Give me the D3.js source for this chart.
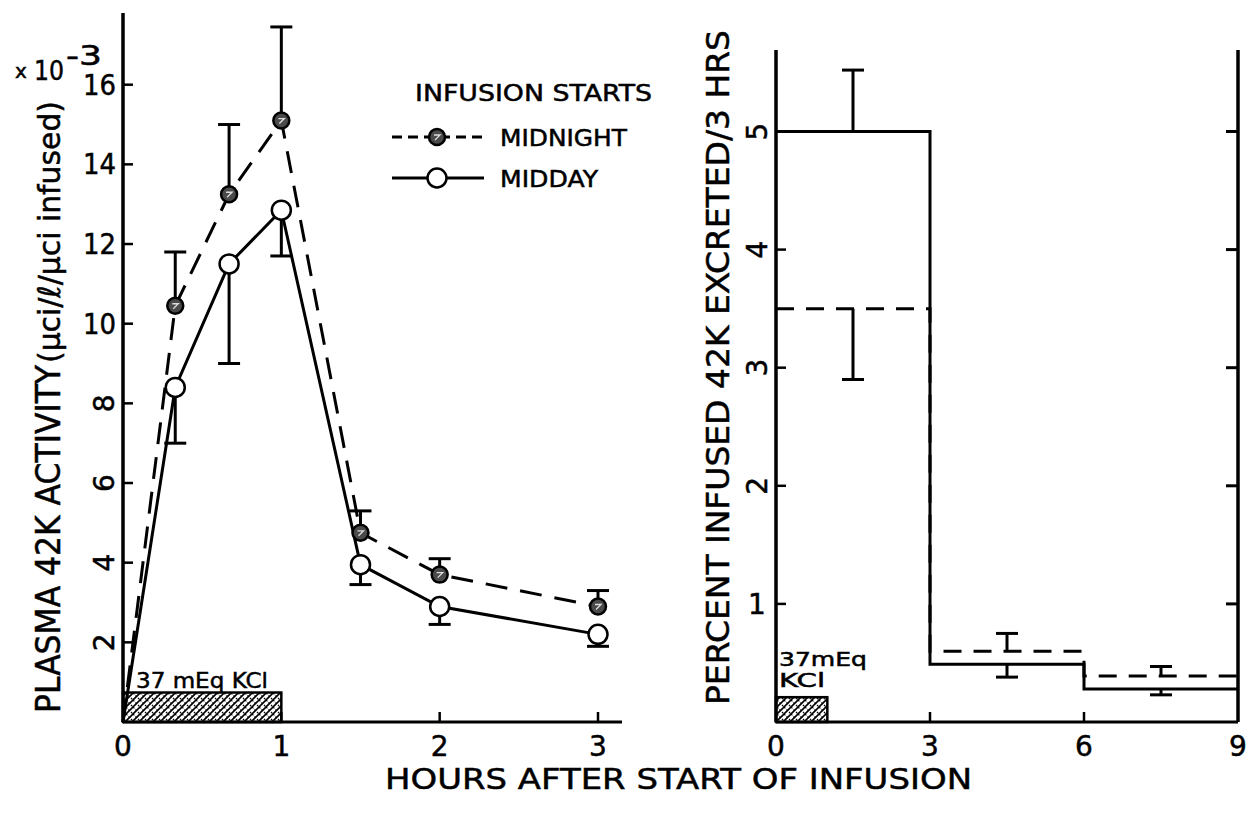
<!DOCTYPE html>
<html>
<head>
<meta charset="utf-8">
<script src="https://cdn.jsdelivr.net/npm/d3@7"></script>
<style>
  body { margin: 0; background: #fff; }
  svg text { font-family: 'DejaVu Sans', 'Liberation Sans', sans-serif; fill: #000; stroke: #000; stroke-width: 0.5; }
</style>
</head>
<body>
<div id="chart"></div>
<script>
// left panel: plasma activity, hours 0-3
var hoursL = [0, 0.33, 0.67, 1, 1.5, 2, 3];
var midnightL = [0, 10.45, 13.25, 15.1, 4.75, 3.7, 2.9];
var midnightErrL = [null, 11.8, 15.0, 17.45, 5.3, 4.1, 3.3];
var middayL = [0, 8.4, 11.5, 12.85, 3.95, 2.9, 2.2];
var middayErrL = [null, 7.0, 9.0, 11.7, 3.45, 2.45, 1.9];
var yTicksL = [2, 4, 6, 8, 10, 12, 14, 16];
var xTicksL = [0, 1, 2, 3];

// right panel: percent excreted per 3 hrs
var binStarts = [0, 3, 6];
var binWidth = 3;
var midnightR = [3.5, 0.6, 0.39];
var midnightErrR = [2.9, 0.75, 0.47];
var middayR = [5.0, 0.49, 0.28];
var middayErrR = [5.52, 0.38, 0.23];
var yTicksR = [1, 2, 3, 4, 5];
var xTicksR = [0, 3, 6, 9];

var infusionHours = 1;
var infusionBarL = 0.74, infusionBarR = 0.21;

var W = 1246, H = 813;
var lw = 3;

var svg = d3.select('#chart').append('svg')
  .attr('width', W).attr('height', H);

var defs = svg.append('defs');
var hatch = defs.append('pattern')
  .attr('id', 'hatch').attr('patternUnits', 'userSpaceOnUse')
  .attr('width', 7).attr('height', 7);
hatch.append('rect').attr('width', 7).attr('height', 7).attr('fill', '#fff');
hatch.append('path').attr('d', 'M0,7 L7,0 M-2,2 L2,-2 M5,9 L9,5')
  .attr('stroke', '#000').attr('stroke-width', 1.6);
hatch.append('path').attr('d', 'M0,0 L7,7')
  .attr('stroke', '#000').attr('stroke-width', 1.2).attr('stroke-dasharray', '2,1.5');

/* Left panel */

var xL = d3.scaleLinear().domain([0, 3]).range([123, 598]);
var yL = d3.scaleLinear().domain([0, 17.8]).range([722, 13]);

var gL = svg.append('g');

gL.append('rect')
  .attr('x', xL(0)).attr('y', yL(infusionBarL))
  .attr('width', xL(infusionHours) - xL(0)).attr('height', yL(0) - yL(infusionBarL))
  .attr('fill', 'url(#hatch)').attr('stroke', '#000').attr('stroke-width', 2.5);

gL.append('text').attr('x', 136).attr('y', 688)
  .attr('font-size', 22).attr('textLength', 132).attr('lengthAdjust', 'spacingAndGlyphs')
  .text('37 mEq KCl');

// axes
gL.append('line').attr('x1', xL(0)).attr('x2', xL(0)).attr('y1', yL(17.8)).attr('y2', yL(0))
  .attr('stroke', '#000').attr('stroke-width', 3.5);
gL.append('line').attr('x1', xL(0)).attr('x2', 622).attr('y1', yL(0)).attr('y2', yL(0))
  .attr('stroke', '#000').attr('stroke-width', 3);

yTicksL.forEach(function(v) {
  gL.append('line').attr('x1', xL(0)).attr('x2', xL(0) + 10).attr('y1', yL(v)).attr('y2', yL(v))
    .attr('stroke', '#000').attr('stroke-width', 2.5);
  if (v >= 10) {
    gL.append('text').attr('x', 116).attr('y', yL(v) + 10)
      .attr('text-anchor', 'end').attr('font-size', 28).attr('textLength', 33)
      .attr('lengthAdjust', 'spacingAndGlyphs').text(v);
  } else {
    gL.append('text').attr('transform', 'translate(114,' + yL(v) + ') rotate(-90)')
      .attr('text-anchor', 'middle').attr('font-size', 28).text(v);
  }
});
xTicksL.forEach(function(v) {
  if (v > 0) {
    gL.append('line').attr('x1', xL(v)).attr('x2', xL(v)).attr('y1', yL(0)).attr('y2', yL(0) - 10)
      .attr('stroke', '#000').attr('stroke-width', 2.5);
  }
  gL.append('text').attr('x', xL(v)).attr('y', 756)
    .attr('text-anchor', 'middle').attr('font-size', 28).text(v);
});

gL.append('text').attr('x', 15).attr('y', 78).attr('font-size', 20).text('x');
gL.append('text').attr('x', 34).attr('y', 80).attr('font-size', 27)
  .attr('textLength', 30).attr('lengthAdjust', 'spacingAndGlyphs').text('10');
gL.append('text').attr('x', 66).attr('y', 65).attr('font-size', 26)
  .attr('textLength', 36).attr('lengthAdjust', 'spacingAndGlyphs').text('-3');

gL.append('text').attr('transform', 'translate(60,713) rotate(-90)')
  .attr('font-size', 33).attr('textLength', 348).attr('lengthAdjust', 'spacingAndGlyphs')
  .text('PLASMA 42K ACTIVITY');
gL.append('text').attr('transform', 'translate(60,363) rotate(-90)')
  .attr('font-size', 31).attr('textLength', 262).attr('lengthAdjust', 'spacingAndGlyphs')
  .text('(μci/ℓ/μci infused)');

var lineL = d3.line().x(function(d) { return xL(d[0]); }).y(function(d) { return yL(d[1]); });

function errorBars(g, xs, vals, ends, xs_, ys_, cap) {
  xs.forEach(function(x, i) {
    if (ends[i] === null) return;
    g.append('line').attr('x1', xs_(x)).attr('x2', xs_(x)).attr('y1', ys_(vals[i])).attr('y2', ys_(ends[i]))
      .attr('stroke', '#000').attr('stroke-width', lw);
    g.append('line').attr('x1', xs_(x) - cap).attr('x2', xs_(x) + cap).attr('y1', ys_(ends[i])).attr('y2', ys_(ends[i]))
      .attr('stroke', '#000').attr('stroke-width', lw);
  });
}

errorBars(gL, hoursL, midnightL, midnightErrL, xL, yL, 11);
errorBars(gL, hoursL, middayL, middayErrL, xL, yL, 11);

gL.append('path').attr('d', lineL(d3.zip(hoursL, midnightL)))
  .attr('fill', 'none').attr('stroke', '#000').attr('stroke-width', lw)
  .attr('stroke-dasharray', '22,13');
gL.append('path').attr('d', lineL(d3.zip(hoursL, middayL)))
  .attr('fill', 'none').attr('stroke', '#000').attr('stroke-width', lw);

function midnightMarker(g, cx, cy) {
  g.append('circle').attr('cx', cx).attr('cy', cy).attr('r', 8)
    .attr('fill', '#4a4a4a').attr('stroke', '#000').attr('stroke-width', 2.5);
  g.append('path').attr('d', 'M' + (cx - 3) + ',' + (cy - 2) + ' L' + (cx + 3) + ',' + (cy - 2) + ' L' + (cx - 2) + ',' + (cy + 3))
    .attr('fill', 'none').attr('stroke', '#ddd').attr('stroke-width', 1.3);
}
function middayMarker(g, cx, cy) {
  g.append('circle').attr('cx', cx).attr('cy', cy).attr('r', 9.5)
    .attr('fill', '#fff').attr('stroke', '#000').attr('stroke-width', 2.5);
}

hoursL.forEach(function(h, i) {
  if (i === 0) return;
  midnightMarker(gL, xL(h), yL(midnightL[i]));
  middayMarker(gL, xL(h), yL(middayL[i]));
});

// legend
gL.append('text').attr('x', 415).attr('y', 101)
  .attr('font-size', 23).attr('textLength', 237).attr('lengthAdjust', 'spacingAndGlyphs')
  .text('INFUSION STARTS');
gL.append('line').attr('x1', 392).attr('x2', 486).attr('y1', 137).attr('y2', 137)
  .attr('stroke', '#000').attr('stroke-width', lw).attr('stroke-dasharray', '10,6');
midnightMarker(gL, 437, 137);
gL.append('text').attr('x', 500).attr('y', 146)
  .attr('font-size', 23).attr('textLength', 127).attr('lengthAdjust', 'spacingAndGlyphs')
  .text('MIDNIGHT');
gL.append('line').attr('x1', 392).attr('x2', 484).attr('y1', 178).attr('y2', 178)
  .attr('stroke', '#000').attr('stroke-width', lw);
middayMarker(gL, 437, 178);
gL.append('text').attr('x', 500).attr('y', 187)
  .attr('font-size', 23).attr('textLength', 98).attr('lengthAdjust', 'spacingAndGlyphs')
  .text('MIDDAY');

/* Right panel */

var xR = d3.scaleLinear().domain([0, 9]).range([776, 1238]);
var yR = d3.scaleLinear().domain([0, 5.69]).range([722, 50]);
var gR = svg.append('g');

gR.append('rect')
  .attr('x', xR(0)).attr('y', yR(infusionBarR))
  .attr('width', xR(infusionHours) - xR(0)).attr('height', yR(0) - yR(infusionBarR))
  .attr('fill', 'url(#hatch)').attr('stroke', '#000').attr('stroke-width', 2.5);
gR.append('text').attr('x', 779).attr('y', 666)
  .attr('font-size', 19).attr('textLength', 88).attr('lengthAdjust', 'spacingAndGlyphs').text('37mEq');
gR.append('text').attr('x', 779).attr('y', 687)
  .attr('font-size', 19).attr('textLength', 46).attr('lengthAdjust', 'spacingAndGlyphs').text('KCl');

[0, 9].forEach(function(v) {
  gR.append('line').attr('x1', xR(v)).attr('x2', xR(v)).attr('y1', yR(5.69)).attr('y2', yR(0))
    .attr('stroke', '#000').attr('stroke-width', 3.5);
});
gR.append('line').attr('x1', xR(0)).attr('x2', xR(9)).attr('y1', yR(0)).attr('y2', yR(0))
  .attr('stroke', '#000').attr('stroke-width', 3);

yTicksR.forEach(function(v) {
  gR.append('line').attr('x1', xR(0)).attr('x2', xR(0) + 10).attr('y1', yR(v)).attr('y2', yR(v))
    .attr('stroke', '#000').attr('stroke-width', 2.5);
  gR.append('line').attr('x1', xR(9)).attr('x2', xR(9) - 12).attr('y1', yR(v)).attr('y2', yR(v))
    .attr('stroke', '#000').attr('stroke-width', 3);
  if (v === 1) {
    gR.append('text').attr('x', 757).attr('y', yR(v) + 10)
      .attr('text-anchor', 'middle').attr('font-size', 28).text(v);
  } else {
    gR.append('text').attr('transform', 'translate(767,' + yR(v) + ') rotate(-90)')
      .attr('text-anchor', 'middle').attr('font-size', 28).text(v);
  }
});
xTicksR.forEach(function(v) {
  if (v > 0 && v < 9) {
    gR.append('line').attr('x1', xR(v)).attr('x2', xR(v)).attr('y1', yR(0)).attr('y2', yR(0) - 10)
      .attr('stroke', '#000').attr('stroke-width', 2.5);
  }
  gR.append('text').attr('x', xR(v)).attr('y', 756)
    .attr('text-anchor', 'middle').attr('font-size', 28).text(v);
});

gR.append('text').attr('transform', 'translate(729,705) rotate(-90)')
  .attr('font-size', 32).attr('textLength', 675).attr('lengthAdjust', 'spacingAndGlyphs')
  .text('PERCENT INFUSED 42K EXCRETED/3 HRS');

var stepR = d3.line().curve(d3.curveStepAfter)
  .x(function(d) { return xR(d[0]); }).y(function(d) { return yR(d[1]); });
var edges = binStarts.concat([binStarts[binStarts.length - 1] + binWidth]);

gR.append('path').attr('d', stepR(edges.map(function(e, i) { return [e, middayR[Math.min(i, middayR.length - 1)]]; })))
  .attr('fill', 'none').attr('stroke', '#000').attr('stroke-width', lw);
gR.append('path').attr('d', stepR(edges.map(function(e, i) { return [e, midnightR[Math.min(i, midnightR.length - 1)]]; })))
  .attr('fill', 'none').attr('stroke', '#000').attr('stroke-width', lw)
  .attr('stroke-dasharray', '18,12');

var mids = binStarts.map(function(b) { return b + binWidth / 2; });
errorBars(gR, mids, middayR, middayErrR, xR, yR, 11);
errorBars(gR, mids, midnightR, midnightErrR, xR, yR, 11);

// shared x title
svg.append('text').attr('x', 385).attr('y', 789)
  .attr('font-size', 29).attr('textLength', 587).attr('lengthAdjust', 'spacingAndGlyphs')
  .text('HOURS AFTER START OF  INFUSION');
</script>
</body>
</html>
